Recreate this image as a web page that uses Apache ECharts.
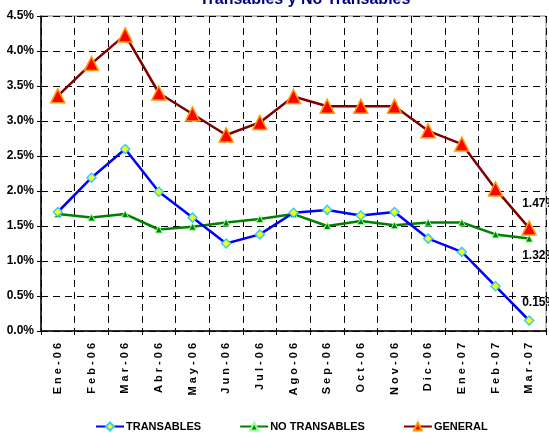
<!DOCTYPE html>
<html>
<head>
<meta charset="utf-8">
<script src="https://cdn.jsdelivr.net/npm/echarts@6/dist/echarts.min.js"></script>
<style>
  html, body { margin: 0; padding: 0; background: #fff; }
  #chart { width: 549px; height: 433px; }
</style>
</head>
<body>
<div id="chart"></div>
<script>
  // 数据
  const months = ['Ene-06', 'Feb-06', 'Mar-06', 'Abr-06', 'May-06', 'Jun-06', 'Jul-06', 'Ago-06',
    'Sep-06', 'Oct-06', 'Nov-06', 'Dic-06', 'Ene-07', 'Feb-07', 'Mar-07']
  const transables = [1.70, 2.19, 2.60, 1.99, 1.62, 1.25, 1.38, 1.69, 1.73, 1.65, 1.70, 1.32, 1.13, 0.64, 0.15]
  const noTransables = [1.67, 1.62, 1.67, 1.45, 1.49, 1.55, 1.60, 1.67, 1.50, 1.57, 1.51, 1.55, 1.55, 1.38, 1.32]
  const general = [3.36, 3.82, 4.23, 3.40, 3.10, 2.80, 2.98, 3.35, 3.21, 3.21, 3.21, 2.86, 2.67, 2.03, 1.47]

  const font = 'Arial, "Liberation Sans", sans-serif'
  const spaced = (s) => s.split('').join(' ')

  // 只给最后一个点加标签
  const lastLabel = (arr, position, offset) =>
    arr.map((v, i) => i === arr.length - 1
      ? { value: v, label: { show: true, position, offset, formatter: (p) => p.value.toFixed(2) + '%' } }
      : v)

  const chart = echarts.init(document.getElementById('chart'))

  chart.setOption({
    animation: false,
    title: {
      text: 'Transables y No Transables',
      left: 300,
      top: -13,
      textAlign: 'center',
      textStyle: { color: '#000080', fontSize: 16, fontWeight: 'bold', fontFamily: font },
    },
    grid: {
      left: 41,
      right: 3,
      top: 16,
      bottom: 102,
      show: true,
      borderColor: '#808080',
      borderWidth: 1,
    },
    legend: {
      left: 95,
      top: 421,
      padding: 0,
      itemWidth: 28,
      itemHeight: 10,
      itemGap: 38,
      textStyle: { color: '#000', fontSize: 11, fontWeight: 'bold', fontFamily: font, padding: [0, 0, 0, -3] },
      data: ['TRANSABLES', 'NO TRANSABLES', 'GENERAL'],
    },
    xAxis: {
      type: 'category',
      data: months,
      boundaryGap: true,
      axisLine: { lineStyle: { color: '#000', width: 1.5 } },
      axisTick: { show: true, length: 4, lineStyle: { color: '#000' } },
      axisLabel: {
        rotate: 90,
        margin: 12,
        color: '#000',
        fontSize: 11,
        fontWeight: 'bold',
        fontFamily: font,
        formatter: spaced,
      },
      splitLine: { show: true, lineStyle: { color: '#000', type: [7, 5], width: 1 } },
    },
    yAxis: {
      type: 'value',
      min: 0,
      max: 4.5,
      interval: 0.5,
      axisLine: { show: true, lineStyle: { color: '#000', width: 1.5 } },
      axisTick: { show: true, length: 4, lineStyle: { color: '#000' } },
      axisLabel: {
        margin: 7,
        color: '#000',
        fontSize: 12,
        fontWeight: 'bold',
        fontFamily: font,
        formatter: (v) => v.toFixed(1) + '%',
      },
      splitLine: { show: true, lineStyle: { color: '#000', type: [7, 5], width: 1 } },
    },
    series: [
      {
        name: 'TRANSABLES',
        type: 'line',
        data: lastLabel(transables, 'top', [10, -2]),
        symbol: 'diamond',
        symbolSize: 9,
        lineStyle: { color: '#0000ff', width: 2.5 },
        itemStyle: { color: '#ffff00', borderColor: '#33ccff', borderWidth: 1.5 },
        label: { color: '#000', fontSize: 12, fontWeight: 'bold', fontFamily: font },
        z: 3,
      },
      {
        name: 'NO TRANSABLES',
        type: 'line',
        data: lastLabel(noTransables, 'bottom', [10, 2]),
        symbol: 'triangle',
        symbolSize: 7,
        lineStyle: { color: '#008000', width: 2.5 },
        itemStyle: { color: '#008000', borderColor: '#99ff99', borderWidth: 1 },
        label: { color: '#000', fontSize: 12, fontWeight: 'bold', fontFamily: font },
        z: 2,
      },
      {
        name: 'GENERAL',
        type: 'line',
        data: lastLabel(general, 'top', [10, -6]),
        symbol: 'triangle',
        symbolSize: 14,
        lineStyle: { color: '#800000', width: 2.5 },
        itemStyle: { color: '#ff0000', borderColor: '#ff9900', borderWidth: 1.5 },
        label: { color: '#000', fontSize: 12, fontWeight: 'bold', fontFamily: font },
        z: 4,
      },
    ],
  })
</script>
</body>
</html>
